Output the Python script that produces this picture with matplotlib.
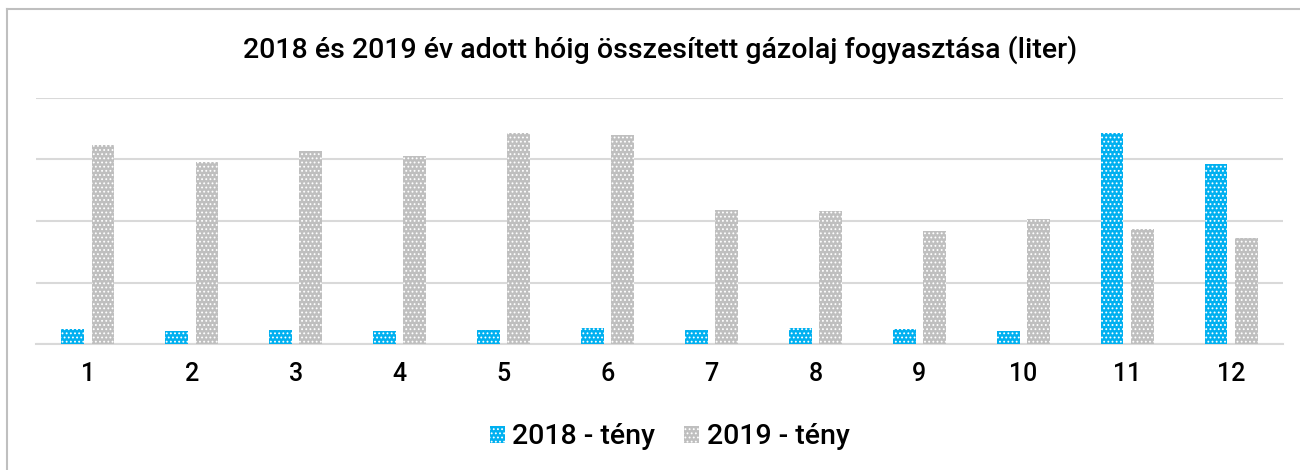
import matplotlib
matplotlib.use("Agg")
import numpy as np
import matplotlib.pyplot as plt
from matplotlib.lines import Line2D

# havi adatok (liter), a kepről leolvasva
honapok = ["1", "2", "3", "4", "5", "6", "7", "8", "9", "10", "11", "12"]
teny_2018 = [2430, 2160, 2320, 2160, 2270, 2600, 2320, 2690, 2480, 2160, 34200, 29300]
teny_2019 = [32300, 29600, 31400, 30600, 34300, 34000, 21800, 21700, 18400, 20300, 18700, 17200]
sorozatok = ["2018 - tény", "2019 - tény"]
cim = "2018 és 2019 év adott hóig összesített gázolaj fogyasztása (liter)"

kek = "#00B0F0"
szurke = "#BFBFBF"

plt.rcParams["font.family"] = ["Roboto", "DejaVu Sans"]
plt.rcParams["font.weight"] = "medium"
plt.rcParams["hatch.linewidth"] = 0.8

fig = plt.figure(figsize=(13, 4.7), dpi=100)
ax = fig.add_axes([36/1300, 1-344.3/470, 1247/1300, (344.3-97.7)/470])

x = np.arange(len(honapok))
w = 0.22
b1 = ax.bar(x - 0.145, teny_2018, w, color=kek, edgecolor="white", linewidth=0,
            hatch="....", label=sorozatok[0], zorder=3)
b2 = ax.bar(x + 0.145, teny_2019, w, color=szurke, edgecolor="white", linewidth=0,
            hatch="....", label=sorozatok[1], zorder=3)

ax.set_xlim(-0.5, len(honapok) - 0.5)
ax.set_ylim(0, 40000)
ax.set_yticks(np.arange(0, 40001, 10000))
ax.yaxis.grid(True, color="#D9D9D9", linewidth=1.5)
ax.set_axisbelow(True)
ax.tick_params(axis="y", left=False, labelleft=False)
ax.tick_params(axis="x", length=0, pad=13, labelsize=18)
ax.set_xticks(x)
ax.set_xticklabels(honapok)
for s in ["top", "right", "left"]:
    ax.spines[s].set_visible(False)
ax.spines["bottom"].set_color("#D9D9D9")
ax.spines["bottom"].set_linewidth(1.5)

fig.text(0.508, 1-50/470, cim, ha="center", va="center", fontsize=20.5)

ax.legend(loc="center", bbox_to_anchor=(0.508, (344.3-437)/(344.3-97.7)), ncol=2,
          frameon=False, fontsize=20.5, handlelength=0.55, handleheight=0.55,
          handletextpad=0.25, columnspacing=1.0)

# keret
fig.add_artist(Line2D([6.5/1300, 1], [1-9/470, 1-9/470], color="#BFBFBF", linewidth=1.5))
fig.add_artist(Line2D([6.5/1300, 6.5/1300], [0, 1-9/470], color="#BFBFBF", linewidth=1.5))

fig.savefig("out.png", dpi=100)
